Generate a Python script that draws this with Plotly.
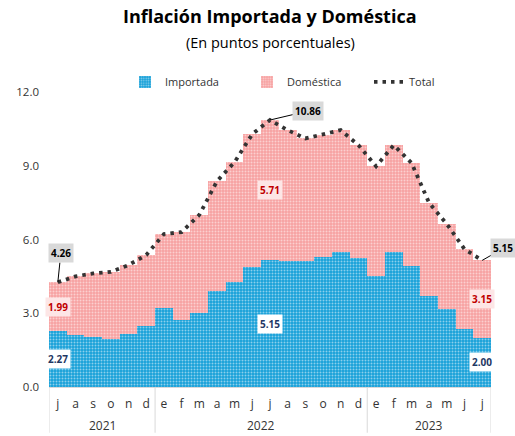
import plotly.graph_objects as go

months = ["j","a","s","o","n","d",
          "e","f","m","a","m","j","j","a","s","o","n","d",
          "e","f","m","a","m","j","j"]
years = ["2021", "2022", "2023"]
importada = [2.27, 2.11, 2.02, 1.95, 2.15, 2.48,
             3.21, 2.72, 3.00, 3.90, 4.27, 4.87, 5.15, 5.13, 5.11, 5.27, 5.49, 5.24,
             4.52, 5.49, 4.92, 3.70, 3.16, 2.35, 2.00]
domestica = [1.99, 2.39, 2.60, 2.73, 2.81, 2.89,
             3.01, 3.58, 4.00, 4.47, 4.88, 5.42, 5.71, 5.32, 5.00, 5.00, 4.96, 4.60,
             4.46, 4.35, 4.20, 3.79, 3.47, 3.26, 3.15]
total = [4.26, 4.50, 4.62, 4.68, 4.96, 5.37,
         6.22, 6.30, 7.00, 8.37, 9.15, 10.29, 10.86, 10.45, 10.11, 10.27, 10.45, 9.84,
         8.98, 9.84, 9.12, 7.49, 6.63, 5.61, 5.15]

x = list(range(len(months)))
FONT = "Open Sans"
TXT = "#333333"
H_PLOT = 295  # plot height in px (436 - 92 - 49)

fig = go.Figure()
fig.add_trace(go.Bar(
    x=x, y=importada, name="Importada",
    marker=dict(color="#17a0d8", line=dict(width=0),
                pattern=dict(shape=".", fgcolor="#ffffff", bgcolor="#17a0d8",
                             size=3, solidity=0.35)),
))
fig.add_trace(go.Bar(
    x=x, y=domestica, name="Doméstica",
    marker=dict(color="#f7a1a1", line=dict(width=0),
                pattern=dict(shape=".", fgcolor="#ffffff", bgcolor="#f7a1a1",
                             size=3, solidity=0.35)),
))
fig.add_trace(go.Scatter(
    x=x, y=total, name="Total", mode="lines",
    line=dict(color="#333333", width=3.8, dash="3.5px,5px"),
))

# value labels inside segments
lab_idx = [0, 12, 24]
for i in lab_idx:
    fig.add_annotation(x=i, y=importada[i] / 2, text="<b>%.2f</b>" % importada[i],
                       showarrow=False, font=dict(family=FONT, size=10, color="#1f3864"),
                       bgcolor="#ffffff", borderpad=2)
    fig.add_annotation(x=i, y=importada[i] + domestica[i] / 2, text="<b>%.2f</b>" % domestica[i],
                       showarrow=False, font=dict(family=FONT, size=10, color="#c00000"),
                       bgcolor="#fde6e6", borderpad=2)

# total callouts
callouts = [(0, 3, -29), (12, 38, -9), (24, 21, -12)]
for i, ax, ay in callouts:
    fig.add_annotation(x=i, y=total[i], text="<b>%.2f</b>" % total[i],
                       showarrow=True, arrowhead=0, arrowwidth=1, arrowcolor="#000000",
                       ax=ax, ay=ay, standoff=0,
                       font=dict(family=FONT, size=10, color="#000000"),
                       bgcolor="#d9d9d9", borderpad=2)

# title and subtitle
fig.add_annotation(x=0.5, xref="paper", y=1 + (92 - 16) / H_PLOT, yref="paper",
                   yanchor="middle", xanchor="center",
                   text="<b>Inflación Importada y Doméstica</b>",
                   showarrow=False, font=dict(family=FONT, size=18, color="#000000"))
fig.add_annotation(x=0.5, xref="paper", y=1 + (92 - 43) / H_PLOT, yref="paper",
                   yanchor="middle", xanchor="center",
                   text="(En puntos porcentuales)",
                   showarrow=False, font=dict(family=FONT, size=14.5, color="#000000"))

# year labels and separators
year_pos = [2.5, 11.5, 21]
for yr, p in zip(years, year_pos):
    fig.add_annotation(x=p, y=-38 / H_PLOT, yref="paper", yanchor="middle", text=yr,
                       showarrow=False, font=dict(family=FONT, size=12, color=TXT))
for b in [-0.5, 5.5, 17.5, 24.5]:
    fig.add_shape(type="line", x0=b, x1=b, y0=0, y1=-0.155, xref="x", yref="paper",
                  line=dict(color="#d9d9d9", width=1))

fig.update_layout(
    width=515, height=436,
    margin=dict(l=49, r=24, t=92, b=49),
    barmode="stack", bargap=0,
    plot_bgcolor="#ffffff", paper_bgcolor="#ffffff",
    font=dict(family=FONT, size=11, color=TXT),
    legend=dict(orientation="h", x=(125 - 49) / 442, xanchor="left", y=0.985, yanchor="bottom",
                entrywidth=77, entrywidthmode="pixels",
                font=dict(family=FONT, size=11, color=TXT), traceorder="normal"),
    showlegend=True,
)
fig.update_xaxes(range=[-0.5, 24.5], tickmode="array", tickvals=x, ticktext=months,
                 showgrid=False, zeroline=False, showline=True, linecolor="#d9d9d9",
                 ticks="", ticklabelstandoff=6, tickfont=dict(size=12, color=TXT))
fig.update_yaxes(range=[0, 12], tickvals=[0, 3, 6, 9, 12],
                 ticktext=["0.0", "3.0", "6.0", "9.0", "12.0"],
                 showgrid=False, zeroline=False, showline=False, ticks="",
                 ticklabelstandoff=9, tickfont=dict(size=11.5, color=TXT))

fig.write_html("out.html", config={"displayModeBar": False},
               post_script="document.body.style.margin='0';document.body.style.overflow='hidden';")
